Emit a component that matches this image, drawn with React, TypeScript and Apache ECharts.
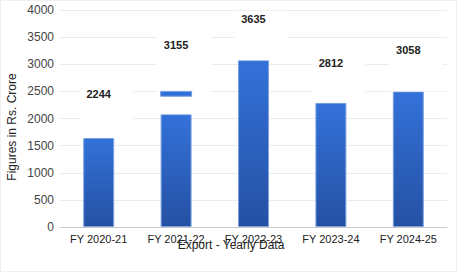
import React, { useEffect, useRef } from "react";
import * as echarts from "echarts";

const categories = ["FY 2020-21", "FY 2021-22", "FY 2022-23", "FY 2023-24", "FY 2024-25"];
const barValues = [1640, 2080, 3075, 2290, 2500];
const labelValues = [2244, 3155, 3635, 2812, 3058];
const capRanges = [[1, 2410, 2500]];
const yTicks = { min: 0, max: 4000, interval: 500 };

const FONT = "'Liberation Sans', Arial, sans-serif";

export default function App() {
  const ref = useRef<HTMLDivElement>(null);
  useEffect(() => {
    document.body.style.margin = "0";
    if (!ref.current) return;
    const chart = echarts.init(ref.current, undefined, { renderer: "svg" });
    const grad = new echarts.graphic.LinearGradient(0, 0, 0, 1, [
      { offset: 0, color: "#3371d9" },
      { offset: 1, color: "#2551a3" },
    ]);
    chart.setOption({
      animation: false,
      backgroundColor: "#fff",
      grid: { left: 60, right: 10, top: 10, bottom: 45 },
      xAxis: {
        type: "category",
        data: categories,
        axisLine: { lineStyle: { color: "#cccccc" } },
        axisTick: { show: false },
        axisLabel: { fontSize: 11, color: "#222", fontFamily: FONT, margin: 6 },
      },
      yAxis: {
        type: "value",
        min: yTicks.min,
        max: yTicks.max,
        interval: yTicks.interval,
        axisLine: { show: false },
        axisTick: { show: false },
        axisLabel: {
          fontSize: 12,
          color: "#444",
          fontFamily: FONT,
          margin: 6,
          formatter: (v: number) => String(v),
        },
        splitLine: { lineStyle: { color: "#ebebeb", width: 1 } },
      },
      graphic: [
        {
          type: "rect",
          shape: { x: 0.5, y: 0.5, width: 456, height: 271 },
          style: { fill: "none", stroke: "#f0f0f0", lineWidth: 1 },
          silent: true,
        },
        {
          type: "text",
          x: 12,
          y: 127,
          rotation: Math.PI / 2,
          style: {
            text: "Figures in Rs. Crore",
            fontSize: 12,
            fontFamily: FONT,
            fill: "#222",
            align: "center",
            verticalAlign: "middle",
          },
        },
        {
          type: "text",
          x: 231,
          y: 245,
          z: 10,
          style: {
            text: "Export - Yearly Data",
            fontSize: 12,
            fontFamily: FONT,
            fill: "#222",
            align: "center",
            verticalAlign: "middle",
          },
        },
      ],
      series: [
        {
          type: "bar",
          data: barValues,
          barWidth: "40%",
          z: 2,
          itemStyle: { color: grad, borderColor: "#7aa0e0", borderWidth: 1 },
        },
        {
          type: "custom",
          z: 3,
          clip: false,
          data: categories.map((_, i) => [i, barValues[i], labelValues[i]]),
          encode: { x: 0, y: 2 },
          renderItem: (params: any, api: any) => {
            const i = api.value(0);
            const lo = api.value(1);
            const lab = api.value(2);
            const pBar = api.coord([i, lo]);
            const pLab = api.coord([i, lab]);
            const ty = pLab[1] - 11;
            const top = ty - 8;
            return {
              type: "group",
              children: [
                {
                  type: "rect",
                  shape: { x: pBar[0] - 19, y: top, width: 54, height: pBar[1] - top },
                  style: { fill: "#ffffff" },
                },
                {
                  type: "text",
                  style: {
                    text: String(lab),
                    x: pBar[0],
                    y: ty,
                    align: "center",
                    verticalAlign: "middle",
                    fontSize: 11,
                    fontWeight: "bold",
                    fontFamily: FONT,
                    fill: "#222",
                  },
                },
              ],
            };
          },
        },
        {
          type: "custom",
          z: 4,
          clip: false,
          data: capRanges,
          encode: { x: 0, y: 2 },
          renderItem: (params: any, api: any) => {
            const i = api.value(0);
            const p0 = api.coord([i, api.value(1)]);
            const p1 = api.coord([i, api.value(2)]);
            const w = api.size([1, 0])[0] * 0.4;
            return {
              type: "rect",
              shape: { x: p0[0] - w / 2, y: p1[1], width: w, height: p0[1] - p1[1] },
              style: { fill: "#3170d8", stroke: "#7aa0e0", lineWidth: 1 },
            };
          },
        },
      ],
    });
    return () => chart.dispose();
  }, []);
  return <div ref={ref} style={{ width: 457, height: 272 }} />;
}
